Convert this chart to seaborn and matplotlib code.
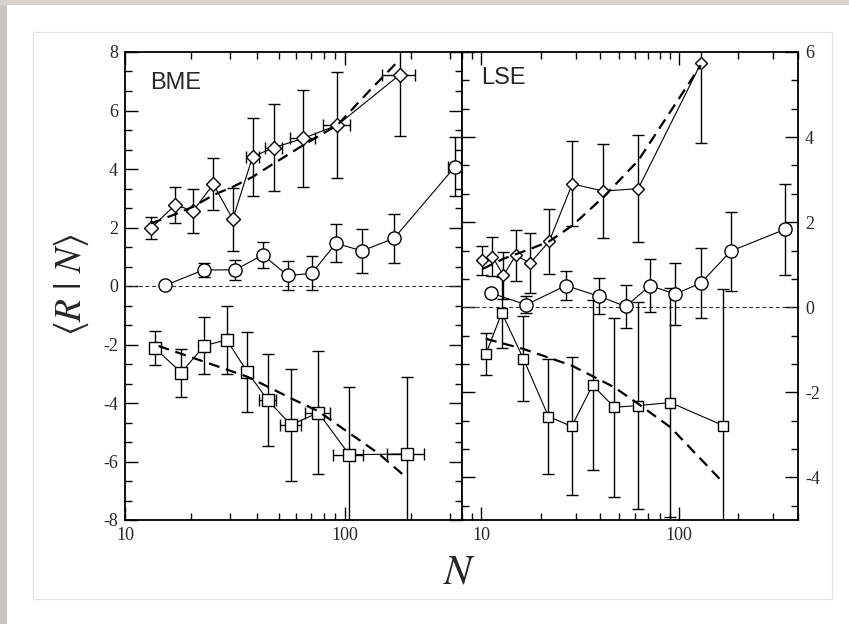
"""
plot.py - <R|N> vs N for BME and LSE, two panels sharing the N axis.
"""

import numpy as np
import pandas as pd

import matplotlib
matplotlib.use("Agg")

import matplotlib.pyplot as plt
import seaborn as sns
from matplotlib.patches import Rectangle
from matplotlib.ticker import FixedLocator, FixedFormatter, MultipleLocator, LogLocator, NullFormatter


# ------------------------ DATA --------------------------

# BME panel
bme_dia_N = [13.1, 16.9, 20.4, 25.2, 30.9, 38.0, 47.5, 64.7, 92.3, 177.8]
bme_dia_R = [1.97, 2.77, 2.57, 3.48, 2.28, 4.42, 4.73, 5.05, 5.50, 7.23]
bme_dia_err = [0.38, 0.60, 0.76, 0.88, 1.07, 1.33, 1.48, 1.65, 1.80, 2.10]
bme_dia_xerr = [0, 0, 0, 0, 0, 2.7, 4.0, 8.6, 12.5, 31.0]

bme_circ_N = [15.2, 22.8, 31.6, 42.3, 54.9, 70.5, 91.0, 119.4, 167.0, 316.0]
bme_circ_R = [0.02, 0.55, 0.55, 1.06, 0.36, 0.43, 1.46, 1.20, 1.63, 4.08]
bme_circ_err = [0.0, 0.25, 0.33, 0.43, 0.50, 0.58, 0.65, 0.74, 0.84, 1.00]
bme_circ_xerr = [0, 0, 0, 0, 0, 0, 0, 0, 0, 22.0]

bme_sq_N = [13.7, 18.0, 22.95, 29.0, 35.9, 44.5, 56.8, 75.6, 104.6, 191.9]
bme_sq_R = [-2.13, -2.96, -2.04, -1.84, -2.93, -3.90, -4.75, -4.33, -5.77, -5.74]
bme_sq_err = [0.58, 0.82, 0.98, 1.17, 1.37, 1.58, 1.90, 2.10, 2.30, 2.62]
bme_sq_xerr = [0, 0, 0, 0, 0, 4.0, 6.3, 9.9, 16.3, 37.5]

bme_dia_fit_N = [13.1, 16.9, 20.4, 25.2, 30.9, 38.0, 47.5, 64.7, 92.3, 130.0, 177.8]
bme_dia_fit_R = [2.14, 2.45, 2.71, 3.11, 3.39, 3.73, 4.19, 4.82, 5.50, 6.70, 7.75]
bme_sq_fit_N = [14.2, 22.95, 35.9, 44.5, 56.8, 75.6, 104.6, 141.6, 187.4]
bme_sq_fit_R = [-2.05, -2.59, -3.10, -3.44, -3.84, -4.28, -5.03, -5.72, -6.51]

# LSE panel
lse_dia_N = [10.15, 11.4, 12.96, 14.96, 17.7, 22.1, 28.9, 41.5, 62.3, 129.0]
lse_dia_R = [1.10, 1.19, 0.75, 1.22, 1.04, 1.55, 2.90, 2.73, 2.79, 5.73]
lse_dia_err = [0.33, 0.45, 0.55, 0.60, 0.70, 0.77, 1.00, 1.10, 1.25, 1.87]

lse_circ_N = [11.27, 16.9, 26.8, 39.4, 53.8, 71.6, 95.7, 129.0, 183.0, 343.0]
lse_circ_R = [0.33, 0.06, 0.51, 0.26, 0.02, 0.51, 0.31, 0.57, 1.32, 1.83]
lse_circ_err = [0.0, 0.20, 0.34, 0.42, 0.50, 0.62, 0.72, 0.83, 0.93, 1.07]

lse_sq_N = [10.56, 12.72, 16.35, 21.9, 28.7, 36.6, 47.1, 62.3, 90.6, 167.4]
lse_sq_R = [-1.10, -0.13, -1.21, -2.57, -2.80, -1.83, -2.35, -2.31, -2.24, -2.78]
lse_sq_err = [0.50, 0.83, 1.00, 1.36, 1.62, 2.00, 2.10, 2.44, 2.70, 3.20]

lse_dia_fit_N = [10.15, 12.96, 17.7, 22.1, 28.9, 41.5, 62.3, 129.0]
lse_dia_fit_R = [0.90, 1.14, 1.37, 1.55, 1.92, 2.59, 3.45, 5.69]
lse_sq_fit_N = [10.56, 16.35, 28.7, 47.1, 62.3, 90.6, 167.4]
lse_sq_fit_R = [-0.74, -0.98, -1.37, -1.88, -2.27, -2.82, -4.12]

X_TICKS = [10, 100]
X_TICK_LABELS = ["10", "100"]

W, H = 849, 624


# ------------------------ HELPERS --------------------------

def series(ax, N, R, err, xerr, marker, ms):
    N = np.asarray(N)
    R = np.asarray(R)
    err = np.asarray(err)
    has_y = err > 0
    ax.errorbar(N[has_y], R[has_y], yerr=err[has_y], fmt="none", ecolor="black",
                elinewidth=1.0, capsize=4.5, capthick=1.0, zorder=2)
    if xerr is not None:
        xerr = np.asarray(xerr)
        has_x = xerr > 0
        ax.errorbar(N[has_x], R[has_x], xerr=xerr[has_x], fmt="none", ecolor="black",
                    elinewidth=1.0, capsize=4.5, capthick=1.0, zorder=2)
    df = pd.DataFrame({"N": N, "R": R})
    sns.lineplot(data=df, x="N", y="R", ax=ax, estimator=None, sort=False,
                 color="black", lw=0.8, marker=marker, markersize=ms,
                 markerfacecolor="white", markeredgecolor="black",
                 markeredgewidth=1.0, zorder=3)


def fit(ax, N, R):
    df = pd.DataFrame({"N": N, "R": R})
    sns.lineplot(data=df, x="N", y="R", ax=ax, estimator=None, sort=False,
                 color="black", lw=1.6, dashes=False, zorder=4)
    ax.lines[-1].set_dashes((5, 3))


def style_axis(ax, ylim, xlim):
    ax.set_xscale("log")
    ax.set_xlim(*xlim)
    ax.set_ylim(*ylim)
    ax.xaxis.set_major_locator(FixedLocator(X_TICKS))
    ax.xaxis.set_major_formatter(FixedFormatter(X_TICK_LABELS))
    ax.xaxis.set_minor_locator(LogLocator(base=10, subs=np.arange(2, 10)))
    ax.xaxis.set_minor_formatter(NullFormatter())
    ax.yaxis.set_major_locator(MultipleLocator(2))
    ax.yaxis.set_minor_locator(MultipleLocator(2 / 3))
    ax.tick_params(which="both", direction="in", top=True, bottom=True,
                   left=True, right=True, width=1.0, color="black")
    ax.tick_params(which="major", length=9.5, pad=5, labelsize=13)
    ax.tick_params(which="minor", length=5)
    for sp in ax.spines.values():
        sp.set_linewidth(1.3)
        sp.set_color("black")
    ax.axhline(0, color="#333333", lw=0.8, ls=(0, (3.5, 2.5)), zorder=1)
    ax.grid(False)


def finish_axis(ax):
    ax.set_xlabel("")
    ax.set_ylabel("")
    leg = ax.get_legend()
    if leg is not None:
        leg.remove()
    for lab in ax.get_xticklabels() + ax.get_yticklabels():
        lab.set_fontfamily("Liberation Serif")


# ------------------------ MAIN --------------------------

def main():
    sns.set_theme(style="ticks")
    plt.rcParams["font.family"] = ["Liberation Serif", "DejaVu Serif"]
    plt.rcParams["mathtext.fontset"] = "stix"
    plt.rcParams["axes.unicode_minus"] = False

    fig = plt.figure(figsize=(W / 100, H / 100), dpi=100)
    fig.patch.set_facecolor("white")

    # card frame / background strips
    fig.add_artist(Rectangle((0, 0), 7 / W, 1, transform=fig.transFigure,
                             facecolor="#c9c6c2", edgecolor="none", zorder=0))
    fig.add_artist(Rectangle((0, 1 - 5 / H), 1, 5 / H, transform=fig.transFigure,
                             facecolor="#d6d3cf", edgecolor="none", zorder=0))
    fig.add_artist(Rectangle((33 / W, 1 - 599 / H), (832 - 33) / W, (599 - 32) / H,
                             transform=fig.transFigure, facecolor="none",
                             edgecolor="#e4e4e4", lw=1.0, zorder=0))

    ax1 = fig.add_axes([125 / W, 1 - 520 / H, 337 / W, 468 / H])
    ax2 = fig.add_axes([462 / W, 1 - 520 / H, 336 / W, 468 / H])

    # BME
    style_axis(ax1, (-8, 8), (10, 340))
    fit(ax1, bme_dia_fit_N, bme_dia_fit_R)
    fit(ax1, bme_sq_fit_N, bme_sq_fit_R)
    series(ax1, bme_dia_N, bme_dia_R, bme_dia_err, bme_dia_xerr, "D", 6.8)
    series(ax1, bme_circ_N, bme_circ_R, bme_circ_err, bme_circ_xerr, "o", 9.5)
    series(ax1, bme_sq_N, bme_sq_R, bme_sq_err, bme_sq_xerr, "s", 8.5)
    ax1.text(0.074, 0.958, "BME", transform=ax1.transAxes, ha="left", va="top",
             fontsize=17, family="Liberation Sans")

    # LSE
    style_axis(ax2, (-5, 6), (8, 400))
    ax2.tick_params(axis="y", which="both", labelleft=False, labelright=True)
    fit(ax2, lse_dia_fit_N, lse_dia_fit_R)
    fit(ax2, lse_sq_fit_N, lse_sq_fit_R)
    series(ax2, lse_dia_N, lse_dia_R, lse_dia_err, None, "D", 5.8)
    series(ax2, lse_circ_N, lse_circ_R, lse_circ_err, None, "o", 9.5)
    series(ax2, lse_sq_N, lse_sq_R, lse_sq_err, None, "s", 7.8)
    ax2.text(0.056, 0.967, "LSE", transform=ax2.transAxes, ha="left", va="top",
             fontsize=17, family="Liberation Sans")

    for ax in (ax1, ax2):
        finish_axis(ax)

    fig.text(71 / W, 1 - 285 / H, r"$\langle R\ |\ N\rangle$", rotation=90,
             ha="center", va="center", fontsize=27)
    fig.text(460 / W, 1 - 573 / H, r"$N$", ha="center", va="center", fontsize=30)

    fig.savefig("out.png", dpi=100, facecolor="white")
    plt.close(fig)


if __name__ == "__main__":
    main()
